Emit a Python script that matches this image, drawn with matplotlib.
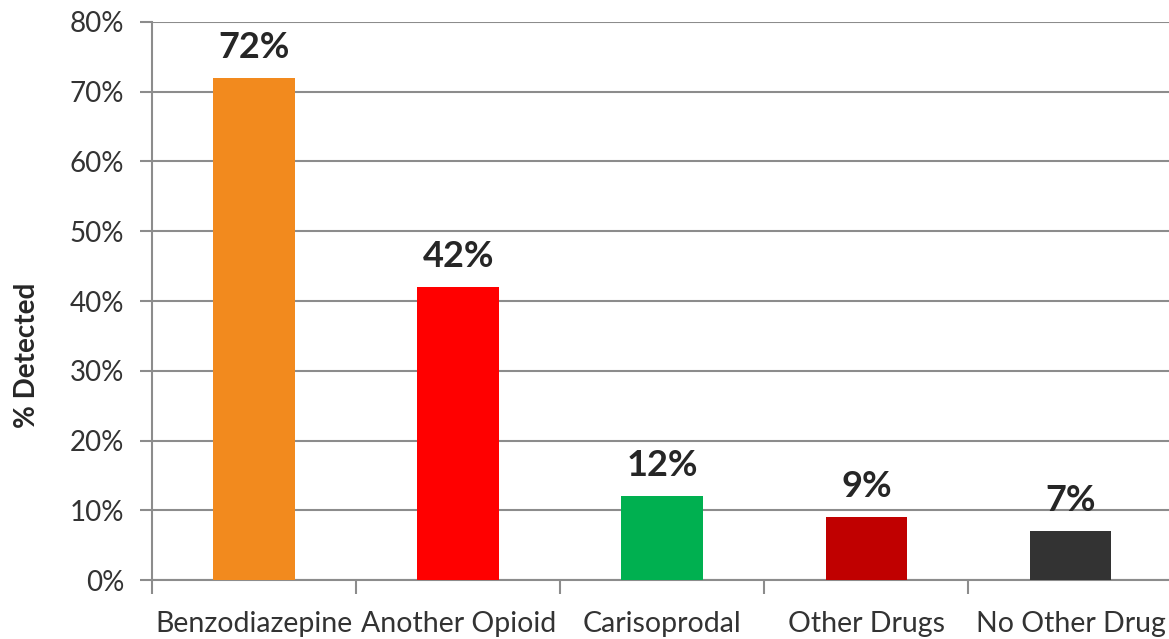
import matplotlib
matplotlib.use("Agg")
import matplotlib.pyplot as plt
from matplotlib.ticker import FuncFormatter, FixedLocator

# chart data
categories = ["Benzodiazepine", "Another Opioid", "Carisoprodal", "Other Drugs", "No Other Drug"]
detected = [72, 42, 12, 9, 7]
bar_colors = ["#F28A1E", "#FF0000", "#00B050", "#C00000", "#333333"]

plt.rcParams["font.family"] = ["Lato", "DejaVu Sans"]

fig = plt.figure(figsize=(11.69, 6.39), dpi=100)
ax = fig.add_axes([0.130, 0.0923, 0.873, 0.8733])

x = list(range(len(categories)))
ax.bar(x, detected, width=0.4, color=bar_colors, zorder=3)

for xi, v in zip(x, detected):
    ax.text(xi, v + 2.0, f"{v}%", ha="center", va="bottom",
            fontsize=26, fontweight="bold", color="#262626", zorder=4)

ax.set_xlim(-0.5, len(categories) - 0.5)
ax.set_ylim(0, 80)
ax.set_yticks(range(0, 81, 10))
ax.yaxis.set_major_formatter(FuncFormatter(lambda v, p: f"{int(v)}%"))
ax.yaxis.grid(True, color="#8C8C8C", linewidth=1.5, zorder=0)

# category labels centred, tick marks between categories
ax.set_xticks(x)
ax.set_xticklabels(categories, fontsize=20.5, color="#333333")
ax.xaxis.set_minor_locator(FixedLocator([i - 0.5 for i in range(len(categories) + 1)]))
ax.tick_params(axis="x", which="major", length=0, pad=22)
ax.tick_params(axis="x", which="minor", length=10, width=1.5, color="#8C8C8C")
ax.tick_params(axis="y", length=9, width=1.5, color="#8C8C8C", labelsize=20,
               labelcolor="#333333", pad=11)

for side in ["top", "right"]:
    ax.spines[side].set_visible(False)
for side in ["left", "bottom"]:
    ax.spines[side].set_color("#8C8C8C")
    ax.spines[side].set_linewidth(1.5)

fig.text(0.023, 0.444, "% Detected", rotation=90, ha="center", va="center",
         fontsize=20, fontweight="bold", color="#262626")

fig.savefig("out.png", dpi=100)
